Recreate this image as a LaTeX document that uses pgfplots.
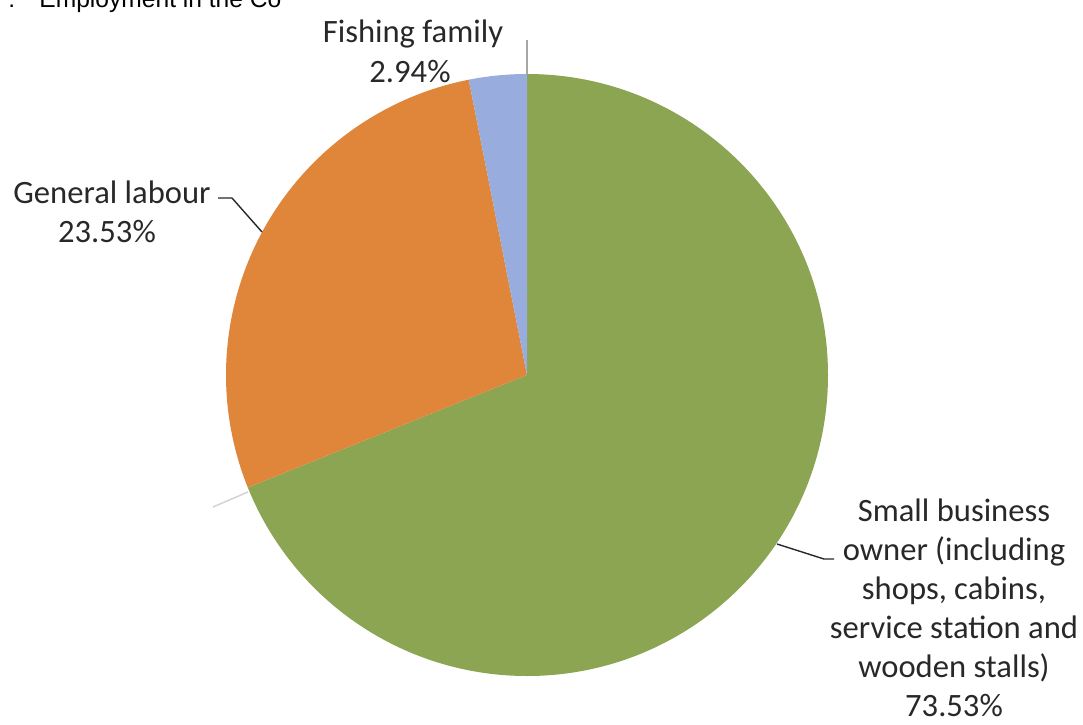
\documentclass[border=0pt]{standalone}
\usepackage{pgfplots}
\pgfplotsset{compat=1.18}
\usepackage{fontspec}
\setmainfont{Carlito}
\newfontfamily\arialf{Liberation Sans}
\definecolor{pgreen}{RGB}{139,165,83}
\definecolor{porange}{RGB}{223,134,58}
\definecolor{pblue}{RGB}{152,172,221}
\definecolor{ptext}{RGB}{40,40,40}
% sector sizes (percent of full circle) as drawn
\def\vG{68.9}
\def\vO{28.0}
\def\vB{3.1}
\begin{document}
\begin{tikzpicture}
\begin{axis}[
  x=0.5pt, y=0.5pt,
  xmin=0, xmax=1083, ymin=0, ymax=724,
  y dir=reverse, hide axis, clip=false,
]
\pgfmathsetmacro{\aA}{90}
\pgfmathsetmacro{\aB}{90-3.6*\vG}
\pgfmathsetmacro{\aC}{\aB-3.6*\vO}
\pgfmathsetmacro{\aD}{\aC-3.6*\vB}
\fill[pgreen] (axis cs:527,375) -- ++(\aA:150.5pt) arc[start angle=\aA, end angle=\aB, radius=150.5pt] -- cycle;
\fill[porange] (axis cs:527,375) -- ++(\aB:150.5pt) arc[start angle=\aB, end angle=\aC, radius=150.5pt] -- cycle;
\fill[pblue] (axis cs:527,375) -- ++(\aC:150.5pt) arc[start angle=\aC, end angle=\aD, radius=150.5pt] -- cycle;
% leader lines
\draw[gray!70, line width=0.6pt] (axis cs:527,40) -- (axis cs:527,74);
\draw[ptext, line width=0.7pt] (axis cs:218,198) -- (axis cs:232,198) -- (axis cs:262,232);
\draw[ptext, line width=0.7pt] (axis cs:777,544) -- (axis cs:824,559) -- (axis cs:834,559);
\draw[gray!35, line width=0.7pt] (axis cs:213,507) -- (axis cs:248,492);
% labels
\tikzset{lab/.style={anchor=base, text=ptext, inner sep=0pt, font=\fontsize{16.3pt}{19.8pt}\selectfont}}
\node[lab] at (axis cs:413,42) {Fishing family};
\node[lab] at (axis cs:410,82) {2.94\%};
\node[lab] at (axis cs:112,203) {General labour};
\node[lab] at (axis cs:107,242) {23.53\%};
\node[lab] at (axis cs:954,521) {Small business};
\node[lab] at (axis cs:954,560) {owner (including};
\node[lab] at (axis cs:954,599) {shops, cabins,};
\node[lab] at (axis cs:954,638) {service station and};
\node[lab] at (axis cs:954,677) {wooden stalls)};
\node[lab] at (axis cs:954,716) {73.53\%};
% title (cut off at the top of the picture, as in the reference)
\node[anchor=base west, inner sep=0pt, font=\arialf\fontsize{12.3pt}{14pt}\selectfont] at (axis cs:8,7) {:};
\node[anchor=base west, inner sep=0pt, font=\arialf\fontsize{12.3pt}{14pt}\selectfont] at (axis cs:39,7) {Employment in the Co};
\end{axis}
\pgfresetboundingbox
\path[use as bounding box] (current axis.south west) rectangle (current axis.north east);
\end{tikzpicture}
\end{document}
